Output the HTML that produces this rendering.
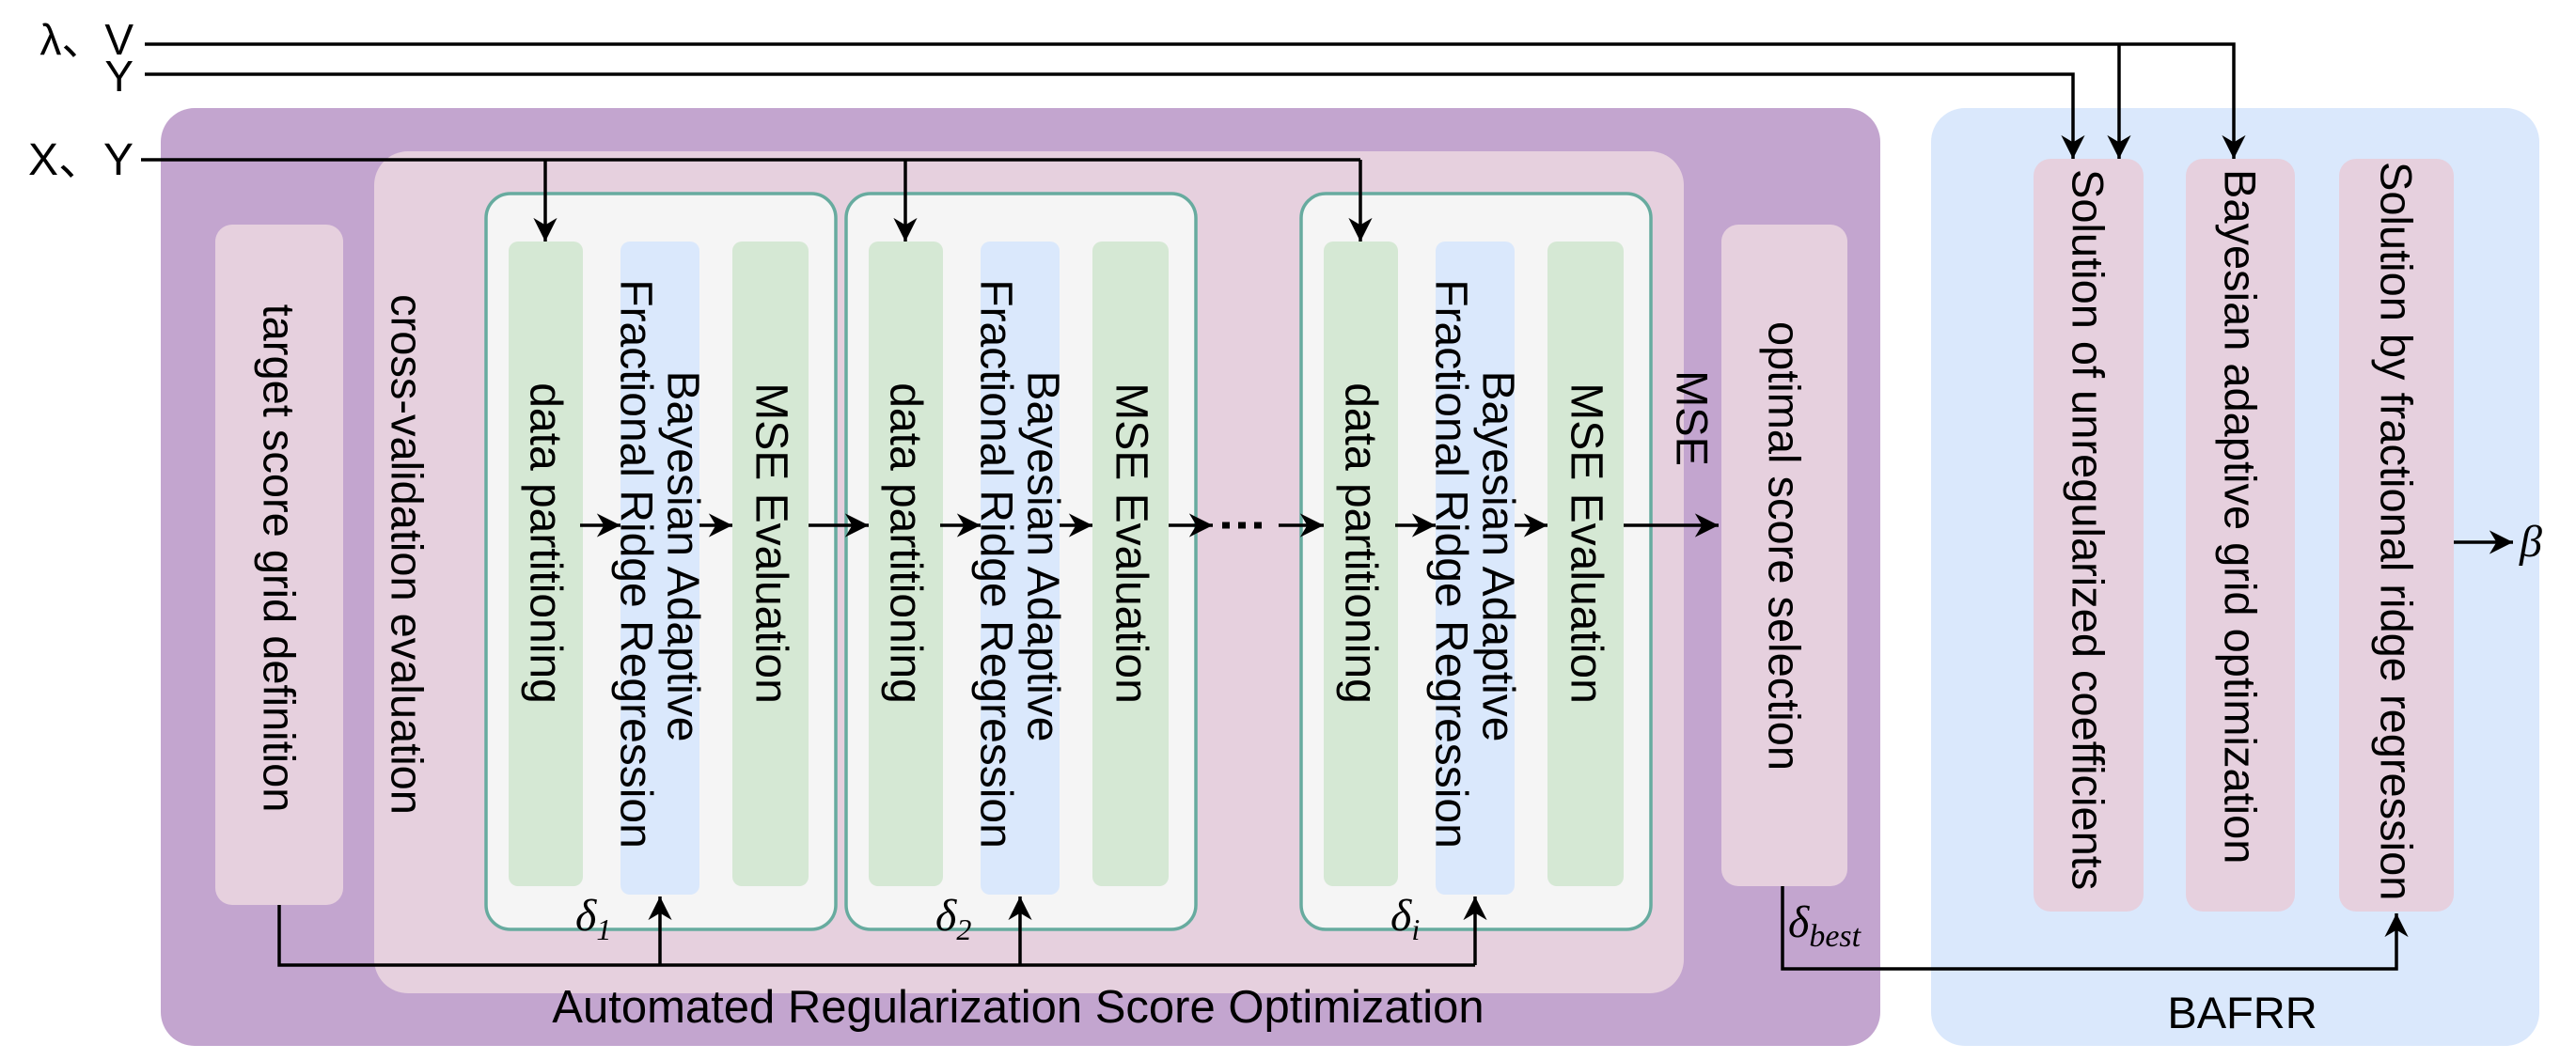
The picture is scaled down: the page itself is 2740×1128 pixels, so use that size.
<!DOCTYPE html>
<html><head><meta charset="utf-8"><style>
html,body{margin:0;padding:0;background:#fff;}
svg{display:block;}
text{font-family:"Liberation Sans","Noto Sans CJK SC",sans-serif;fill:#000;}
.v{font-size:47px;dominant-baseline:central;}
.g{font-size:48px;dominant-baseline:central;}
.d{font-family:"Liberation Serif",serif;font-style:italic;font-size:48px;}
</style></head><body>
<svg width="2740" height="1128" viewBox="0 0 2740 1128" xmlns="http://www.w3.org/2000/svg">
<defs>
<marker id="a" viewBox="0 0 10 10" refX="10" refY="5" markerWidth="7" markerHeight="7" markerUnits="userSpaceOnUse" orient="auto" style="overflow:visible">
<path d="M0,0 L10,5 L0,10 L3,5 Z" transform="scale(3.6) translate(-7.2,-3.6)" fill="#000"/>
</marker>
</defs>
<rect x="171" y="115" width="1829" height="998" rx="36" fill="#c3a5cf"/>
<rect x="398" y="161" width="1393" height="896" rx="36" fill="#e6d0de"/>
<rect x="2054" y="115" width="647" height="998" rx="36" fill="#dae8fc"/>
<rect x="229" y="239" width="136" height="724" rx="18" fill="#e6d0de"/>
<rect x="1831" y="239" width="134" height="704" rx="18" fill="#e6d0de"/>
<rect x="2163" y="169" width="117" height="801" rx="18" fill="#e6d0de"/>
<rect x="2325" y="169" width="116" height="801" rx="18" fill="#e6d0de"/>
<rect x="2488" y="169" width="122" height="801" rx="18" fill="#e6d0de"/>
<g id="g">
<rect x="517" y="206" width="372" height="783" rx="26" fill="#f5f5f5" stroke="#67ab9f" stroke-width="3.5"/>
<rect x="541" y="257" width="79" height="686" rx="10" fill="#d5e8d4"/>
<rect x="660" y="257" width="84" height="695" rx="10" fill="#dae8fc"/>
<rect x="779" y="257" width="81" height="686" rx="10" fill="#d5e8d4"/>
<text class="g" text-anchor="middle" transform="translate(580,578) rotate(90)">data partitioning</text>
<text class="g" text-anchor="middle" transform="translate(820,578) rotate(90)">MSE Evaluation</text>
<text class="g" text-anchor="middle" transform="translate(726,592) rotate(90)">Bayesian Adaptive</text>
<text class="g" text-anchor="middle" transform="translate(676,600) rotate(90)">Fractional Ridge Regression</text>
<g stroke="#000" stroke-width="3.5" fill="none">
<line x1="617" y1="559" x2="660" y2="559" marker-end="url(#a)"/>
<line x1="744" y1="559" x2="779" y2="559" marker-end="url(#a)"/>
</g>
</g>
<use href="#g" x="383"/>
<use href="#g" x="867"/>
<text class="v" text-anchor="middle" transform="translate(297,594) rotate(90)">target score grid definition</text>
<text class="v" text-anchor="middle" transform="translate(433,590) rotate(90)">cross-validation evaluation</text>
<text class="v" text-anchor="middle" transform="translate(1898,581) rotate(90)">optimal score selection</text>
<text class="v" text-anchor="middle" transform="translate(1800,445) rotate(90)">MSE</text>
<text class="v" transform="translate(2221,180) rotate(90)">Solution of unregularized coefficients</text>
<text class="v" transform="translate(2383,180) rotate(90)">Bayesian adaptive grid optimization</text>
<text class="v" transform="translate(2549,172) rotate(90)">Solution by fractional ridge regression</text>
<text x="1083" y="1088" font-size="49" text-anchor="middle">Automated Regularization Score Optimization</text>
<text x="2385" y="1094" font-size="47" text-anchor="middle">BAFRR</text>
<text x="142" y="58" font-size="46" text-anchor="end">λ、V</text>
<text x="142" y="97" font-size="46" text-anchor="end">Y</text>
<text x="142" y="186" font-size="48" text-anchor="end">X、Y</text>
<text class="d" x="612" y="990">δ<tspan font-size="32" dy="10">1</tspan></text>
<text class="d" x="995" y="990">δ<tspan font-size="32" dy="10">2</tspan></text>
<text class="d" x="1479" y="990">δ<tspan font-size="32" dy="10">i</tspan></text>
<text class="d" x="1902" y="997">δ<tspan font-size="34" dy="10">best</tspan></text>
<text class="d" x="2680" y="592" font-size="50">β</text>
<g stroke="#000" stroke-width="3.5" fill="none">
<polyline points="154,47 2376,47 2376,169" marker-end="url(#a)"/>
<line x1="2254" y1="47" x2="2254" y2="169" marker-end="url(#a)"/>
<polyline points="154,79 2205,79 2205,169" marker-end="url(#a)"/>
<line x1="150" y1="170" x2="1447" y2="170"/>
<line x1="580" y1="170" x2="580" y2="257" marker-end="url(#a)"/>
<line x1="963" y1="170" x2="963" y2="257" marker-end="url(#a)"/>
<line x1="1447" y1="170" x2="1447" y2="257" marker-end="url(#a)"/>
<line x1="860" y1="559" x2="924" y2="559" marker-end="url(#a)"/>
<line x1="1243" y1="559" x2="1290" y2="559" marker-end="url(#a)"/>
<line x1="1300" y1="559" x2="1345" y2="559" stroke-dasharray="8,9" stroke-width="7"/>
<line x1="1360" y1="559" x2="1408" y2="559" marker-end="url(#a)"/>
<line x1="1727" y1="559" x2="1828" y2="559" marker-end="url(#a)"/>
<polyline points="297,963 297,1027 1569,1027"/>
<line x1="702" y1="1027" x2="702" y2="954" marker-end="url(#a)"/>
<line x1="1085" y1="1027" x2="1085" y2="954" marker-end="url(#a)"/>
<line x1="1569" y1="1027" x2="1569" y2="954" marker-end="url(#a)"/>
<polyline points="1896,943 1896,1031 2549,1031 2549,972" marker-end="url(#a)"/>
<line x1="2610" y1="577" x2="2673" y2="577" marker-end="url(#a)"/>
</g>
</svg>
</body></html>
